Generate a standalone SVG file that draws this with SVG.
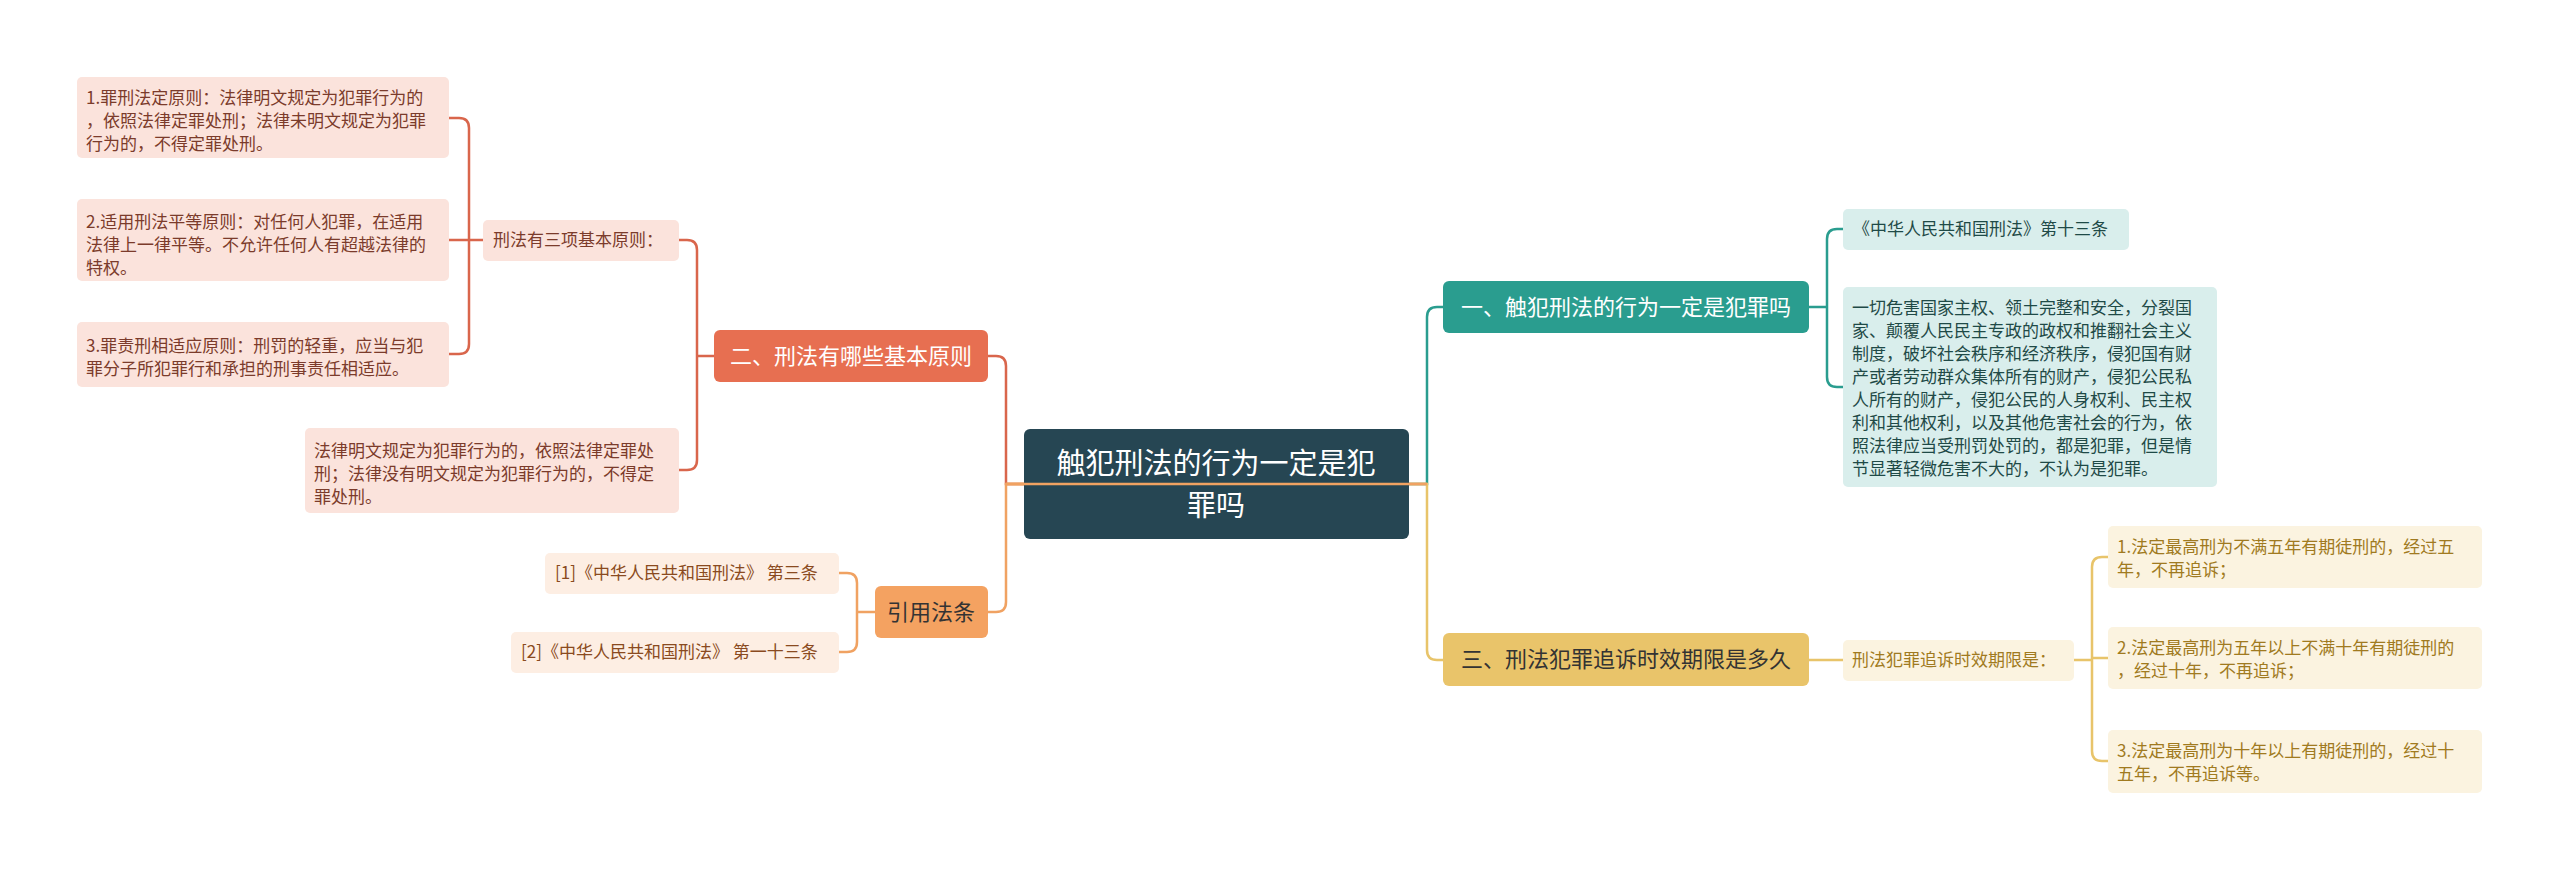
<svg xmlns="http://www.w3.org/2000/svg" width="2560" height="871" viewBox="0 0 2560 871">
<style>
text{font-family:"Noto Sans CJK SC","Liberation Sans",sans-serif}
.c{fill:none;stroke-width:2.5}
.lf{font-size:17px}
.br{font-size:22px}
</style>
<rect width="2560" height="871" fill="#fff"/>
<g id="connectors">
<path class="c" stroke="#2A9D8F" d="M1409,484 H1427 V317 Q1427,307 1437,307 H1443"/>
<path class="c" stroke="#E8C46A" d="M1409,484 H1427 V650 Q1427,660 1437,660 H1443"/>
<path class="c" stroke="#D9664C" d="M1024,484 H1006 V366 Q1006,356 996,356 H988"/>
<path class="c" stroke="#F0A262" d="M1024,484 H1006 V602 Q1006,612 996,612 H988"/>
<path class="c" stroke="#F0A262" d="M1006,484 H1427"/>
<path class="c" stroke="#2A9D8F" d="M1809,307 H1827 M1843,229 H1837 Q1827,229 1827,239 V377 Q1827,387 1837,387 H1843"/>
<path class="c" stroke="#E8C46A" d="M1809,660 H1843 M2074,660 H2092 M2108,557 H2102 Q2092,557 2092,567 V751 Q2092,761 2102,761 H2108 M2092,658 H2108"/>
<path class="c" stroke="#D9664C" d="M714,356 H697 M679,240 H687 Q697,240 697,250 V460 Q697,470 687,470 H679 M697,250 V356"/>
<path class="c" stroke="#D9664C" d="M483,240 H469 M449,118 H459 Q469,118 469,128 V344 Q469,354 459,354 H449 M449,240 H469"/>
<path class="c" stroke="#F0A262" d="M875,612 H857 M839,573 H847 Q857,573 857,583 V642 Q857,652 847,652 H839"/>
</g>
<g id="root">
<rect x="1024" y="429" width="385" height="110" rx="6" fill="#264653"/>
<text x="1216" y="474" font-size="29" fill="#fff" text-anchor="middle">触犯刑法的行为一定是犯</text>
<text x="1216" y="516" font-size="29" fill="#fff" text-anchor="middle">罪吗</text>
</g>
<path class="c" stroke="#F0A262" d="M1006,484 H1427"/>
<g id="b1">
<rect x="1443" y="281" width="366" height="52" rx="6" fill="#2A9D8F"/>
<text class="br" x="1626" y="315" fill="#fff" text-anchor="middle">一、触犯刑法的行为一定是犯罪吗</text>
</g>
<g id="b3">
<rect x="1443" y="633" width="366" height="53" rx="6" fill="#E9C46A"/>
<text class="br" x="1626" y="667" fill="#333" text-anchor="middle">三、刑法犯罪追诉时效期限是多久</text>
</g>
<g id="b2">
<rect x="714" y="330" width="274" height="52" rx="6" fill="#E76F51"/>
<text class="br" x="851" y="364" fill="#fff" text-anchor="middle">二、刑法有哪些基本原则</text>
</g>
<g id="b4">
<rect x="875" y="586" width="113" height="52" rx="6" fill="#F4A261"/>
<text class="br" x="931" y="620" fill="#333" text-anchor="middle">引用法条</text>
</g>
<g id="l0" fill="#7B3B2B">
<rect x="483" y="220" width="196" height="41" rx="5" fill="#FBE3DC"/>
<text class="lf" x="493" y="246">刑法有三项基本原则：</text>
</g>
<g id="l1" fill="#7B3B2B">
<rect x="77" y="77" width="372" height="81" rx="5" fill="#FBE3DC"/>
<text class="lf" x="86" y="104">1.罪刑法定原则：法律明文规定为犯罪行为的</text>
<text class="lf" x="86" y="127">，依照法律定罪处刑；法律未明文规定为犯罪</text>
<text class="lf" x="86" y="150">行为的，不得定罪处刑。</text>
</g>
<g id="l2" fill="#7B3B2B">
<rect x="77" y="199" width="372" height="82" rx="5" fill="#FBE3DC"/>
<text class="lf" x="86" y="228">2.适用刑法平等原则：对任何人犯罪，在适用</text>
<text class="lf" x="86" y="251">法律上一律平等。不允许任何人有超越法律的</text>
<text class="lf" x="86" y="274">特权。</text>
</g>
<g id="l3" fill="#7B3B2B">
<rect x="77" y="322" width="372" height="65" rx="5" fill="#FBE3DC"/>
<text class="lf" x="86" y="352">3.罪责刑相适应原则：刑罚的轻重，应当与犯</text>
<text class="lf" x="86" y="375">罪分子所犯罪行和承担的刑事责任相适应。</text>
</g>
<g id="l4" fill="#7B3B2B">
<rect x="305" y="428" width="374" height="85" rx="5" fill="#FBE3DC"/>
<text class="lf" x="314" y="457">法律明文规定为犯罪行为的，依照法律定罪处</text>
<text class="lf" x="314" y="480">刑；法律没有明文规定为犯罪行为的，不得定</text>
<text class="lf" x="314" y="503">罪处刑。</text>
</g>
<g id="l5" fill="#8A4A20">
<rect x="545" y="553" width="294" height="41" rx="5" fill="#FDEEE3"/>
<text class="lf" x="555" y="579">[1]《中华人民共和国刑法》 第三条</text>
</g>
<g id="l6" fill="#8A4A20">
<rect x="511" y="632" width="328" height="41" rx="5" fill="#FDEEE3"/>
<text class="lf" x="521" y="658">[2]《中华人民共和国刑法》 第一十三条</text>
</g>
<g id="r0" fill="#1F4A47">
<rect x="1843" y="209" width="286" height="41" rx="5" fill="#D9EEEC"/>
<text class="lf" x="1853" y="235">《中华人民共和国刑法》第十三条</text>
</g>
<g id="r1" fill="#1F4A47">
<rect x="1843" y="287" width="374" height="200" rx="5" fill="#D9EEEC"/>
<text class="lf" x="1852" y="314">一切危害国家主权、领土完整和安全，分裂国</text>
<text class="lf" x="1852" y="337">家、颠覆人民民主专政的政权和推翻社会主义</text>
<text class="lf" x="1852" y="360">制度，破坏社会秩序和经济秩序，侵犯国有财</text>
<text class="lf" x="1852" y="383">产或者劳动群众集体所有的财产，侵犯公民私</text>
<text class="lf" x="1852" y="406">人所有的财产，侵犯公民的人身权利、民主权</text>
<text class="lf" x="1852" y="429">利和其他权利，以及其他危害社会的行为，依</text>
<text class="lf" x="1852" y="452">照法律应当受刑罚处罚的，都是犯罪，但是情</text>
<text class="lf" x="1852" y="475">节显著轻微危害不大的，不认为是犯罪。</text>
</g>
<g id="r2" fill="#A07A20">
<rect x="1843" y="640" width="231" height="41" rx="5" fill="#FBF3E0"/>
<text class="lf" x="1852" y="666">刑法犯罪追诉时效期限是：</text>
</g>
<g id="r3" fill="#A07A20">
<rect x="2108" y="526" width="374" height="62" rx="5" fill="#FBF3E0"/>
<text class="lf" x="2117" y="553">1.法定最高刑为不满五年有期徒刑的，经过五</text>
<text class="lf" x="2117" y="576">年，不再追诉；</text>
</g>
<g id="r4" fill="#A07A20">
<rect x="2108" y="627" width="374" height="62" rx="5" fill="#FBF3E0"/>
<text class="lf" x="2117" y="654">2.法定最高刑为五年以上不满十年有期徒刑的</text>
<text class="lf" x="2117" y="677">，经过十年，不再追诉；</text>
</g>
<g id="r5" fill="#A07A20">
<rect x="2108" y="730" width="374" height="63" rx="5" fill="#FBF3E0"/>
<text class="lf" x="2117" y="757">3.法定最高刑为十年以上有期徒刑的，经过十</text>
<text class="lf" x="2117" y="780">五年，不再追诉等。</text>
</g>
</svg>
